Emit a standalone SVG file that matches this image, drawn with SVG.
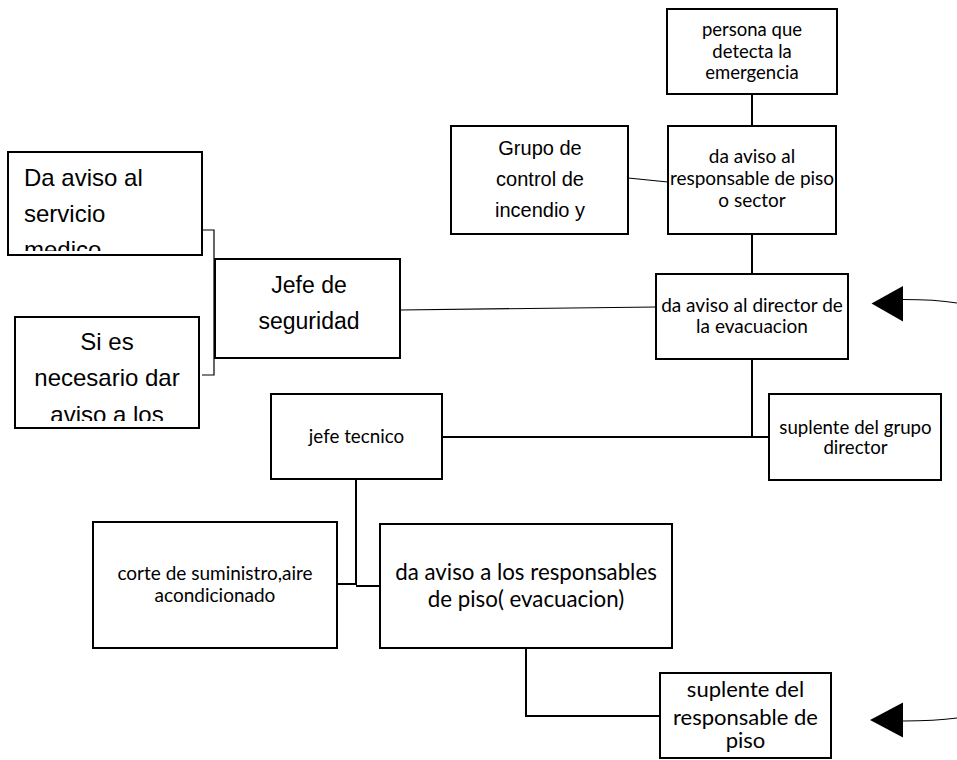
<svg xmlns="http://www.w3.org/2000/svg" width="957" height="760" viewBox="0 0 957 760">
<defs>
<style>
.box{fill:#fff;stroke:#000;stroke-width:2}
.ln{fill:none;stroke:#000;stroke-width:2}
.thin{fill:none;stroke:#000;stroke-width:1.2}
.ah{fill:#000;stroke:none}
.c{font-family:Lato,"Open Sans",sans-serif;fill:#000;text-anchor:middle}
.a{font-family:"Liberation Sans",Arial,sans-serif;fill:#000}
.m{text-anchor:middle}
</style>
<clipPath id="clipMed"><rect x="9" y="153" width="192" height="98"/></clipPath>
<clipPath id="clipSi"><rect x="16" y="318" width="182" height="103"/></clipPath>
</defs>
<rect width="957" height="760" fill="#fff"/>
<g id="connectors">
<path class="ln" d="M752,94 V126"/>
<path class="ln" d="M752,234 V274"/>
<path class="thin" d="M628,178 L668,182"/>
<path class="thin" d="M400,310 L656,307"/>
<path class="thin" d="M202,230 H214 V375 H202"/>
<path class="ln" d="M752,359 V437"/>
<path class="ln" d="M442,437 H769"/>
<path class="ln" d="M356,479 V585"/>
<path class="ln" d="M337,584 H356"/>
<path class="ln" d="M356,586 H380"/>
<path class="ln" d="M526,648 V716 H660"/>
<path class="thin" d="M903,299.5 Q935,299.5 957,303"/>
<polygon class="ah" points="871.5,303.5 903,286 903,321.5"/>
<path class="thin" d="M903,721 Q935,721 957,718"/>
<polygon class="ah" points="870,720 903,702.5 903,737.5"/>
</g>
<g id="persona">
<rect class="box" x="667" y="9" width="170" height="85"/>
<text class="c" font-size="18.5" x="752" y="36">persona que</text>
<text class="c" font-size="18.5" x="752" y="57.7">detecta la</text>
<text class="c" font-size="18.5" x="752" y="79.3">emergencia</text>
</g>
<g id="responsable">
<rect class="box" x="668" y="126" width="168" height="108"/>
<text class="c" font-size="19" x="752" y="163.3">da aviso al</text>
<text class="c" font-size="19" x="752" y="185">responsable de piso</text>
<text class="c" font-size="19" x="752" y="206.7">o sector</text>
</g>
<g id="grupo">
<rect class="box" x="451" y="126" width="177" height="108"/>
<text class="a m" font-size="20" x="540" y="155">Grupo de</text>
<text class="a m" font-size="20" x="540" y="185.7">control de</text>
<text class="a m" font-size="20" x="540" y="216.7">incendio y</text>
</g>
<g id="director">
<rect class="box" x="656" y="274" width="192" height="85"/>
<text class="c" font-size="19" x="752" y="311.7">da aviso al director de</text>
<text class="c" font-size="19" x="752" y="333">la evacuacion</text>
</g>
<g id="jefe-seguridad">
<rect class="box" x="215" y="259" width="185" height="99"/>
<text class="a m" font-size="23" x="309" y="293.3">Jefe de</text>
<text class="a m" font-size="23" x="309" y="329.3">seguridad</text>
</g>
<g id="servicio-medico">
<rect class="box" x="8" y="152" width="194" height="103"/>
<g clip-path="url(#clipMed)">
<text class="a" font-size="24" x="24" y="185.7">Da aviso al</text>
<text class="a" font-size="24" x="24" y="221.7">servicio</text>
<text class="a" font-size="24" x="24" y="257.7">medico</text>
</g>
</g>
<g id="si-es-necesario">
<rect class="box" x="15" y="317" width="184" height="111"/>
<g clip-path="url(#clipSi)">
<text class="a m" font-size="24" x="107" y="350">Si es</text>
<text class="a m" font-size="24" x="107" y="386">necesario dar</text>
<text class="a m" font-size="24" x="107" y="422.5">aviso a los</text>
</g>
</g>
<g id="jefe-tecnico">
<rect class="box" x="271" y="394" width="171" height="85"/>
<text class="c" font-size="18.8" x="356.5" y="442.7">jefe tecnico</text>
</g>
<g id="suplente-grupo">
<rect class="box" x="769" y="394" width="172" height="86"/>
<text class="c" font-size="18.7" x="855.5" y="433.5">suplente del grupo</text>
<text class="c" font-size="18.7" x="855.5" y="454">director</text>
</g>
<g id="corte">
<rect class="box" x="93" y="522" width="244" height="126"/>
<text class="c" font-size="19" x="215" y="580">corte de suministro,aire</text>
<text class="c" font-size="19" x="215" y="602.3">acondicionado</text>
</g>
<g id="responsables-piso">
<rect class="box" x="380" y="524" width="292" height="124"/>
<text class="c" font-size="22.3" x="526" y="580">da aviso a los responsables</text>
<text class="c" font-size="22.3" x="526" y="606.7">de piso( evacuacion)</text>
</g>
<g id="suplente-responsable">
<rect class="box" x="660" y="673" width="171" height="85"/>
<text class="c" font-size="22" x="745.5" y="697">suplente del</text>
<text class="c" font-size="22" x="745.5" y="724.5">responsable de</text>
<text class="c" font-size="22" x="745.5" y="748">piso</text>
</g>
</svg>
